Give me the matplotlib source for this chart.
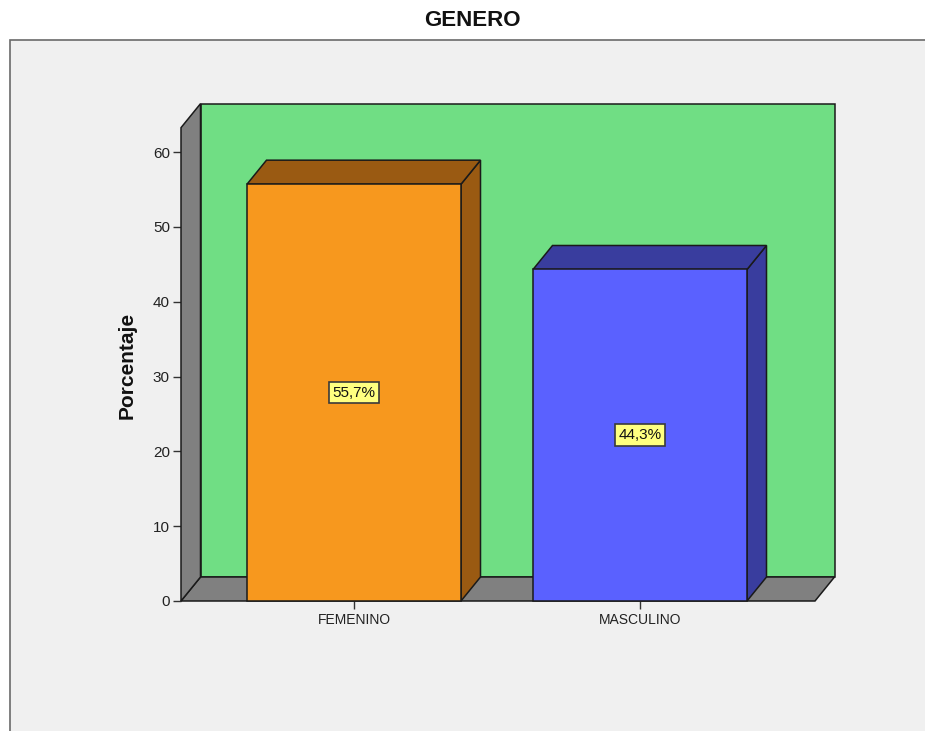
import matplotlib
matplotlib.use("Agg")
import matplotlib.pyplot as plt
from matplotlib.patches import Polygon, Rectangle

# ---- data ----
categories = ["FEMENINO", "MASCULINO"]
values = [55.7, 44.3]
value_labels = ["55,7%", "44,3%"]
yticks = [0, 10, 20, 30, 40, 50, 60]
title = "GENERO"
ylabel = "Porcentaje"

# ---- styles ----
front_colors = ["#F7981E", "#5A61FF"]
dark_colors = ["#9A5A12", "#393D9E"]
wall_green = "#70DE84"
wall_gray = "#808080"
panel_bg = "#F0F0F0"
edge = "#1a1a1a"

plt.rcParams['font.family'] = ['Liberation Sans', 'DejaVu Sans']

W, H = 925, 731
fig = plt.figure(figsize=(W / 100, H / 100), dpi=100, facecolor="white")

# chart frame panel
fig.patches.append(Rectangle((10 / W, -0.1), 1.2, 1 - 40 / H + 0.1,
                             transform=fig.transFigure, facecolor=panel_bg,
                             edgecolor="#6a6a6a", linewidth=1.2, zorder=-5))

# axes placement (pixel geometry of the front plane)
px_left, px_right, px_bottom, px_top60 = 181, 815, 601, 152
ax = fig.add_axes([px_left / W, 1 - px_bottom / H,
                   (px_right - px_left) / W, (px_bottom - px_top60) / H])
ax.set_zorder(2)
ax.set_facecolor("none")
cat_px = [354, 640]
unit_px = cat_px[1] - cat_px[0]
x0 = (px_left - cat_px[0]) / unit_px
x1 = (px_right - cat_px[0]) / unit_px
ax.set_xlim(x0, x1)
ax.set_ylim(0, 60)

ypx = (px_bottom - px_top60) / 60.0
dx = 19.5 / unit_px
dy = 24.0 / ypx
wall_h = 63.25
bar_w = 214 / unit_px

lw = 1.1
def poly(pts, fc, z):
    p = Polygon(pts, closed=True, facecolor=fc, edgecolor=edge, linewidth=lw,
                clip_on=False, zorder=z, joinstyle="miter")
    ax.add_patch(p)

# back wall
poly([(x0 + dx, dy), (x1 + dx, dy), (x1 + dx, wall_h + dy), (x0 + dx, wall_h + dy)], wall_green, 1)
# floor
poly([(x0, 0), (x1, 0), (x1 + dx, dy), (x0 + dx, dy)], wall_gray, 2)
# left wall
poly([(x0, 0), (x0 + dx, dy), (x0 + dx, wall_h + dy), (x0, wall_h)], wall_gray, 2)

# bars
for i, (v, fc, dc) in enumerate(zip(values, front_colors, dark_colors)):
    a = i - bar_w / 2
    b = i + bar_w / 2
    poly([(b, 0), (b + dx, dy), (b + dx, v + dy), (b, v)], dc, 3)
    poly([(a, v), (b, v), (b + dx, v + dy), (a + dx, v + dy)], dc, 3)
    poly([(a, 0), (b, 0), (b, v), (a, v)], fc, 4)
    ax.text(i, v / 2, value_labels[i], ha="center", va="center", fontsize=11,
            color="#111111", zorder=6,
            bbox=dict(boxstyle="square,pad=0.25", facecolor="#FFFF80",
                      edgecolor="#3a3a3a", linewidth=1.2))

for s in ax.spines.values():
    s.set_visible(False)
ax.set_xticks(range(len(categories)))
ax.set_xticklabels(categories, fontsize=10, color="#222222")
ax.set_yticks(yticks)
ax.set_yticklabels([str(t) for t in yticks], fontsize=11, color="#222222")
ax.tick_params(axis="x", length=6, width=1, color="#333333", pad=3)
ax.tick_params(axis="y", length=6, width=1, color="#333333", pad=2)

fig.text(472 / W, 1 - 21 / H, title, ha="center", va="center",
         fontsize=16, fontweight="bold", color="#111111")
fig.text(127 / W, 1 - 365 / H, ylabel, ha="center", va="center", rotation=90,
         fontsize=15, fontweight="bold", color="#111111")

fig.savefig("out.png", dpi=100, facecolor="white")
